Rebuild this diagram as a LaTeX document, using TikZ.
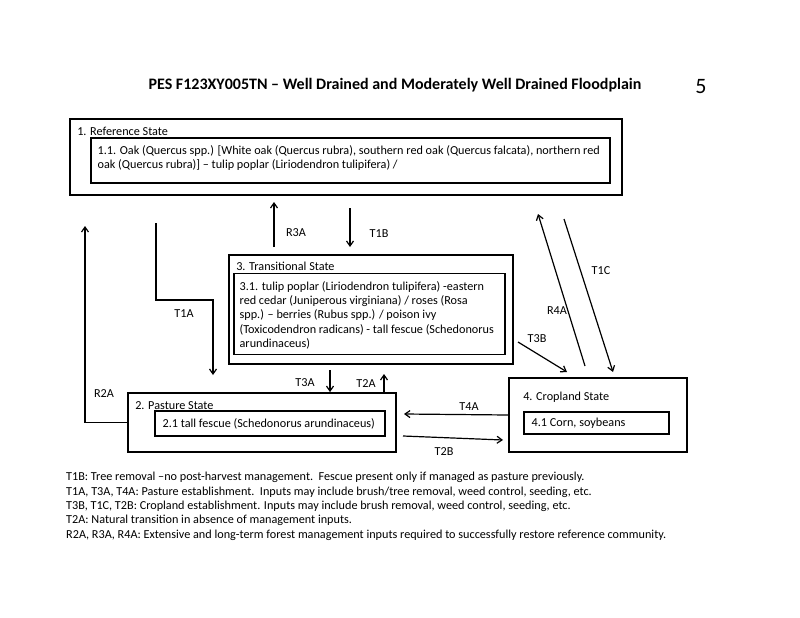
\documentclass[tikz,border=0pt]{standalone}
\usepackage{fontspec}
\setmainfont{Carlito}
\usetikzlibrary{positioning}
\usetikzlibrary{arrows.meta}
\usetikzlibrary{calc}

\newcommand{\bodyfont}{\fontsize{12.2}{14.4}\selectfont}
\tikzset{
    outerbox/.style={draw, line width=1.8pt, inner sep=0pt},
    innerbox/.style={draw, line width=1.1pt, inner sep=0pt},
    boxtext/.style={align=left, inner sep=0pt, anchor=north west},
    statelabel/.style={inner sep=0pt, anchor=north west},
    trans/.style={-{Straight Barb[length=5pt,width=7pt]}, line width=1.2pt},
    lbl/.style={inner sep=0pt}
}

\begin{document}
\begin{tikzpicture}[x=1pt, y=1pt, font=\bodyfont]
        \useasboundingbox[fill=white] (0,0) rectangle (800,-618);

        \node[font=\fontsize{16}{19}\selectfont\bfseries] (title) at (395,-85)
            {PES F123XY005TN -- Well Drained and Moderately Well Drained Floodplain};
        \node[font=\fontsize{22}{26}\selectfont] (page) at (701,-87) {5};

        % 1. reference state
        \node[outerbox, minimum width=552, minimum height=76] (ref) at (346,-157) {};
        \node[statelabel, below right=9pt and 8pt of ref.north west] (refT) {1. Reference State};
        \node[innerbox, minimum width=519, minimum height=45] (refIn) at (350.5,-160.5) {};
        \node[boxtext, below right=8pt and 7pt of refIn.north west] (refInT)
            {1.1. Oak (Quercus spp.) [White oak (Quercus rubra), southern red oak (Quercus falcata), northern red\\
             oak (Quercus rubra)] -- tulip poplar (Liriodendron tulipifera) /};

        % 3. transitional state
        \node[outerbox, minimum width=284, minimum height=109] (tra) at (371,-309.5) {};
        \node[statelabel, below right=8pt and 8pt of tra.north west] (traT) {3. Transitional State};
        \node[innerbox, minimum width=271, minimum height=81] (traIn) at (369.5,-314) {};
        \node[boxtext, below right=8pt and 6pt of traIn.north west] (traInT)
            {3.1. tulip poplar (Liriodendron tulipifera) -eastern\\
             red cedar (Juniperous virginiana) / roses (Rosa\\
             spp.) -- berries (Rubus spp.) / poison ivy\\
             (Toxicodendron radicans) - tall fescue (Schedonorus\\
             arundinaceus)};

        % 2. pasture state
        \node[outerbox, minimum width=268, minimum height=59] (past) at (262,-422.5) {};
        \node[statelabel, below right=9pt and 8pt of past.north west] (pastT) {2. Pasture State};
        \node[innerbox, minimum width=230, minimum height=25] (pastIn) at (270,-423.5) {};
        \node[lbl, anchor=west] (pastInT) at ([xshift=8pt]pastIn.west) {2.1 tall fescue (Schedonorus arundinaceus)};

        % 4. cropland state
        \node[outerbox, minimum width=178, minimum height=74] (crop) at (598,-415) {};
        \node[statelabel, below right=15pt and 15pt of crop.north west] (cropT) {4. Cropland State};
        \node[innerbox, minimum width=145, minimum height=22] (cropIn) at (596.5,-423) {};
        \node[lbl, anchor=west] (cropInT) at ([xshift=8pt]cropIn.west) {4.1 Corn, soybeans};

        % free arrow ends
        \coordinate (r3aS) at (274,-247);
        \coordinate (r3aE) at (274,-202);
        \coordinate (t1bS) at (350,-208);
        \coordinate (t1bE) at (350,-247);
        \coordinate (r2aE) at (85,-226);
        \coordinate (t1aS) at (156,-223);
        \coordinate (t1aE) at (213,-375);
        \coordinate (t3aS) at (330,-370);
        \coordinate (t2aE) at (384,-374);
        \coordinate (t4aE) at (404,-414);
        \coordinate (t2bS) at (403,-436);
        \coordinate (t2bE) at (503,-440);
        \coordinate (t3bS) at (518,-342);
        \coordinate (t3bE) at (567,-372);
        \coordinate (r4aS) at (585,-366);
        \coordinate (r4aE) at (538,-214);
        \coordinate (t1cS) at (564,-219);
        \coordinate (t1cE) at (613,-372);

        \draw[trans] (r3aS) -- (r3aE);
        \draw[trans] (t1bS) -- (t1bE);
        \draw[trans] (past.west) -| (r2aE);
        \draw[trans] (t1aS) |- ($(t1aS)!0.5!(t1aE)+(0,-1)$) -| (t1aE);
        \draw[trans] (t3aS) -- (t3aS |- past.north);
        \draw[trans] (past.north -| t2aE) -- (t2aE);
        \draw[trans] (crop.west) -- (t4aE);
        \draw[trans] (t2bS) -- (t2bE);
        \draw[trans] (t3bS) -- (t3bE);
        \draw[trans] (r4aS) -- (r4aE);
        \draw[trans] (t1cS) -- (t1cE);

        % arrow labels
        \node[lbl] (r3aL) at (296,-233) {R3A};
        \node[lbl] (t1bL) at (379,-234) {T1B};
        \node[lbl] (r2aL) at (104,-394) {R2A};
        \node[lbl] (t1aL) at (184,-314) {T1A};
        \node[lbl] (t3aL) at (305,-383) {T3A};
        \node[lbl] (t2aL) at (366,-384) {T2A};
        \node[lbl] (t4aL) at (469,-407) {T4A};
        \node[lbl] (t2bL) at (444,-452) {T2B};
        \node[lbl] (t3bL) at (537,-339) {T3B};
        \node[lbl] (r4aL) at (557,-311) {R4A};
        \node[lbl] (t1cL) at (601,-271) {T1C};

        % notes
        \node[boxtext] (notes) at (66,-472)
            {T1B: Tree removal --no post-harvest management.\ \ Fescue present only if managed as pasture previously.\\
             T1A, T3A, T4A: Pasture establishment.\ \ Inputs may include brush/tree removal, weed control, seeding, etc.\\
             T3B, T1C, T2B: Cropland establishment. Inputs may include brush removal, weed control, seeding, etc.\\
             T2A: Natural transition in absence of management inputs.\\
             R2A, R3A, R4A: Extensive and long-term forest management inputs required to successfully restore reference community.};
    \end{tikzpicture}
\end{document}
